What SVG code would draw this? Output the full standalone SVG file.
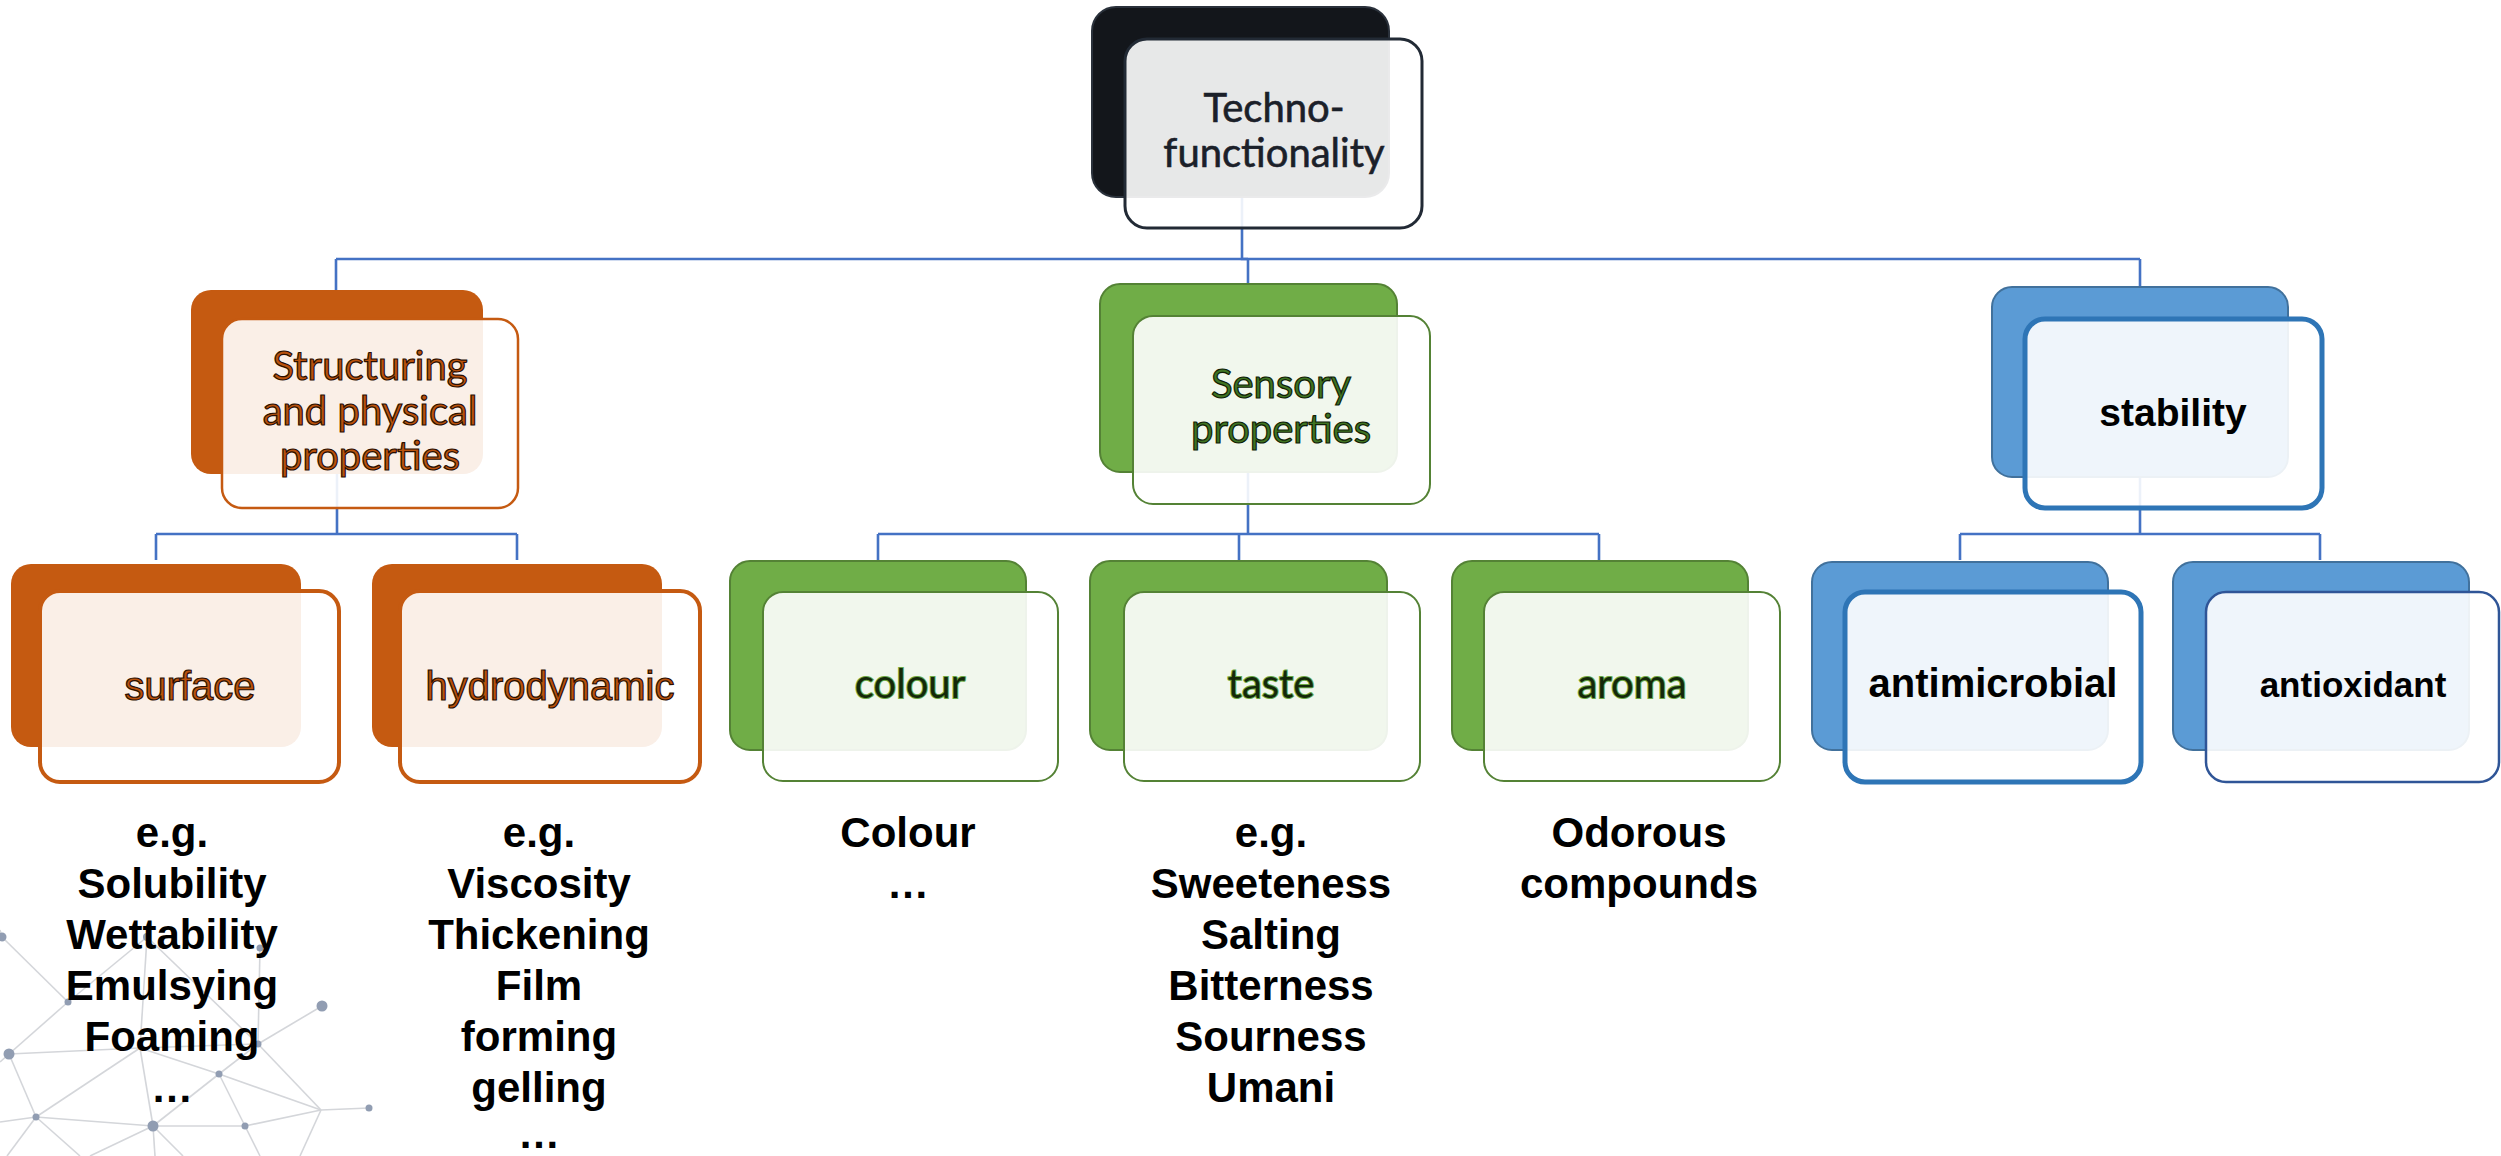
<svg xmlns="http://www.w3.org/2000/svg" width="2501" height="1156" viewBox="0 0 2501 1156">
  <style>
    .net line { stroke: #d4d6da; stroke-width: 1.6; }
    .net circle { fill: #919db2; }
    .conn { fill: none; stroke: #4472c4; stroke-width: 2.6; }
    .front { fill: #ffffff; fill-opacity: 0.9; }
    .cal { font-family: Lato, "Open Sans", "Noto Sans", sans-serif; font-size: 40px; text-anchor: middle; }
    .ari { font-family: "Liberation Sans", Arial, sans-serif; text-anchor: middle; }
    .list { font-family: "Liberation Sans", Arial, sans-serif; font-size: 42px; font-weight: bold; text-anchor: middle; fill: #000; }
    .t-dark { fill: #1b2029; stroke: #1b2029; stroke-width: 0.6; }
    .t-orange { fill: #b9520d; stroke: #2a0e00; stroke-width: 1.2; }
    .t-green { fill: #3f7422; stroke: #0f1d06; stroke-width: 1.2; }
    .t-green2 { fill: #14280a; stroke: #6aa842; stroke-width: 2; paint-order: stroke; }
  </style>

  <!-- decorative network, lower left -->
  <g id="network" class="net">
    <line x1="0" y1="930" x2="2" y2="937"/>
    <line x1="2" y1="937" x2="68" y2="1002"/>
    <line x1="68" y1="1002" x2="9" y2="1054"/>
    <line x1="68" y1="1002" x2="147" y2="937"/>
    <line x1="147" y1="937" x2="140" y2="1048"/>
    <line x1="140" y1="1048" x2="153" y2="1126"/>
    <line x1="147" y1="937" x2="258" y2="1044"/>
    <line x1="260" y1="948" x2="258" y2="1044"/>
    <line x1="322" y1="1006" x2="258" y2="1044"/>
    <line x1="258" y1="1044" x2="219" y2="1074"/>
    <line x1="219" y1="1074" x2="321" y2="1110"/>
    <line x1="258" y1="1044" x2="321" y2="1110"/>
    <line x1="321" y1="1110" x2="369" y2="1108"/>
    <line x1="321" y1="1110" x2="245" y2="1126"/>
    <line x1="321" y1="1110" x2="300" y2="1156"/>
    <line x1="219" y1="1074" x2="245" y2="1126"/>
    <line x1="219" y1="1074" x2="153" y2="1126"/>
    <line x1="140" y1="1048" x2="219" y2="1074"/>
    <line x1="9" y1="1054" x2="140" y2="1048"/>
    <line x1="140" y1="1048" x2="258" y2="1044"/>
    <line x1="140" y1="1048" x2="36" y2="1117"/>
    <line x1="9" y1="1054" x2="36" y2="1117"/>
    <line x1="9" y1="1054" x2="0" y2="1062"/>
    <line x1="36" y1="1117" x2="153" y2="1126"/>
    <line x1="36" y1="1117" x2="0" y2="1122"/>
    <line x1="36" y1="1117" x2="7" y2="1156"/>
    <line x1="36" y1="1117" x2="80" y2="1156"/>
    <line x1="153" y1="1126" x2="245" y2="1126"/>
    <line x1="153" y1="1126" x2="155" y2="1156"/>
    <line x1="153" y1="1126" x2="183" y2="1156"/>
    <line x1="153" y1="1126" x2="90" y2="1156"/>
    <line x1="245" y1="1126" x2="260" y2="1156"/>
    <circle cx="2" cy="937" r="4.5"/>
    <circle cx="147" cy="937" r="4"/>
    <circle cx="260" cy="948" r="3.5"/>
    <circle cx="68" cy="1002" r="3.5"/>
    <circle cx="322" cy="1006" r="5.5"/>
    <circle cx="9" cy="1054" r="5.5"/>
    <circle cx="258" cy="1044" r="3.5"/>
    <circle cx="219" cy="1074" r="3.5"/>
    <circle cx="36" cy="1117" r="3.5"/>
    <circle cx="153" cy="1126" r="5.5"/>
    <circle cx="245" cy="1126" r="3.5"/>
    <circle cx="369" cy="1108" r="3.5"/>
  </g>

  <!-- connectors (drawn beneath the boxes) -->
  <g id="connectors" class="conn">
    <path d="M1242 150 V259 H1248"/>
    <path d="M336 259 H2140"/>
    <path d="M336 259 V290"/>
    <path d="M1248 259 V284"/>
    <path d="M2140 259 V287"/>
    <path d="M337 400 V534 M156 534 H517 M156 534 V560 M517 534 V560"/>
    <path d="M1248 400 V534 M878 534 H1599 M878 534 V560 M1239 534 V560 M1599 534 V560"/>
    <path d="M2140 400 V534 M1960 534 H2320 M1960 534 V560 M2320 534 V560"/>
  </g>

  <!-- root -->
  <g id="node-techno">
    <rect x="1092" y="7" width="297" height="190" rx="24" fill="#13161b" stroke="#2a313b" stroke-width="2"/>
    <rect class="front" x="1125" y="39" width="297" height="189" rx="22" stroke="#222a35" stroke-width="3"/>
    <text class="cal t-dark" x="1274" y="122">Techno-</text>
    <text class="cal t-dark" x="1274" y="167">functionality</text>
  </g>

  <!-- second level -->
  <g id="node-structuring">
    <rect x="191" y="290" width="292" height="184" rx="20" fill="#c55a11"/>
    <rect class="front" x="222" y="319" width="296" height="189" rx="20" stroke="#c55a11" stroke-width="2.5"/>
    <text class="cal t-orange" x="370" y="380">Structuring</text>
    <text class="cal t-orange" x="370" y="425">and physical</text>
    <text class="cal t-orange" x="370" y="470">properties</text>
  </g>

  <g id="node-sensory">
    <rect x="1100" y="284" width="297" height="188" rx="20" fill="#70ad47" stroke="#548235" stroke-width="2"/>
    <rect class="front" x="1133" y="316" width="297" height="188" rx="20" stroke="#548235" stroke-width="2"/>
    <text class="cal t-green" x="1281" y="398">Sensory</text>
    <text class="cal t-green" x="1281" y="443">properties</text>
  </g>

  <g id="node-stability">
    <rect x="1992" y="287" width="296" height="190" rx="20" fill="#5b9bd5" stroke="#41719c" stroke-width="2"/>
    <rect class="front" x="2025" y="319" width="297" height="189" rx="20" stroke="#2e75b6" stroke-width="5"/>
    <text class="ari" x="2173" y="426" font-size="39" font-weight="bold" fill="#000">stability</text>
  </g>

  <!-- third level: structuring -->
  <g id="node-surface">
    <rect x="11" y="564" width="290" height="183" rx="20" fill="#c55a11"/>
    <rect class="front" x="40" y="591" width="299" height="191" rx="20" stroke="#c55a11" stroke-width="4"/>
    <text class="ari t-orange" x="190" y="700" font-size="40">surface</text>
  </g>

  <g id="node-hydrodynamic">
    <rect x="372" y="564" width="290" height="183" rx="20" fill="#c55a11"/>
    <rect class="front" x="400" y="591" width="300" height="191" rx="20" stroke="#c55a11" stroke-width="4"/>
    <text class="ari t-orange" x="550" y="700" font-size="40">hydrodynamic</text>
  </g>

  <!-- third level: sensory -->
  <g id="node-colour">
    <rect x="730" y="561" width="296" height="189" rx="20" fill="#70ad47" stroke="#548235" stroke-width="2"/>
    <rect class="front" x="763" y="592" width="295" height="189" rx="20" stroke="#548235" stroke-width="2"/>
    <text class="cal t-green2" x="910" y="698">colour</text>
  </g>

  <g id="node-taste">
    <rect x="1090" y="561" width="297" height="189" rx="20" fill="#70ad47" stroke="#548235" stroke-width="2"/>
    <rect class="front" x="1124" y="592" width="296" height="189" rx="20" stroke="#548235" stroke-width="2"/>
    <text class="cal t-green2" x="1271" y="698">taste</text>
  </g>

  <g id="node-aroma">
    <rect x="1452" y="561" width="296" height="189" rx="20" fill="#70ad47" stroke="#548235" stroke-width="2"/>
    <rect class="front" x="1484" y="592" width="296" height="189" rx="20" stroke="#548235" stroke-width="2"/>
    <text class="cal t-green2" x="1632" y="698">aroma</text>
  </g>

  <!-- third level: stability -->
  <g id="node-antimicrobial">
    <rect x="1812" y="562" width="296" height="188" rx="20" fill="#5b9bd5" stroke="#41719c" stroke-width="2"/>
    <rect class="front" x="1845" y="592" width="296" height="190" rx="20" stroke="#2e75b6" stroke-width="5"/>
    <text class="ari" x="1993" y="697" font-size="40" font-weight="bold" fill="#000">antimicrobial</text>
  </g>

  <g id="node-antioxidant">
    <rect x="2173" y="562" width="296" height="188" rx="20" fill="#5b9bd5" stroke="#41719c" stroke-width="2"/>
    <rect class="front" x="2206" y="592" width="293" height="190" rx="20" stroke="#2f5597" stroke-width="2.5"/>
    <text class="ari" x="2353" y="697" font-size="35" font-weight="bold" fill="#000">antioxidant</text>
  </g>

  <!-- example lists under the leaves -->
  <g id="list-surface" class="list">
    <text x="172" y="847">e.g.</text>
    <text x="172" y="898">Solubility</text>
    <text x="172" y="949">Wettability</text>
    <text x="172" y="1000">Emulsying</text>
    <text x="172" y="1051">Foaming</text>
    <text x="172" y="1102">…</text>
  </g>

  <g id="list-hydrodynamic" class="list">
    <text x="539" y="847">e.g.</text>
    <text x="539" y="898">Viscosity</text>
    <text x="539" y="949">Thickening</text>
    <text x="539" y="1000">Film</text>
    <text x="539" y="1051">forming</text>
    <text x="539" y="1102">gelling</text>
    <text x="539" y="1148">…</text>
  </g>

  <g id="list-colour" class="list">
    <text x="908" y="847">Colour</text>
    <text x="908" y="898">…</text>
  </g>

  <g id="list-taste" class="list">
    <text x="1271" y="847">e.g.</text>
    <text x="1271" y="898">Sweeteness</text>
    <text x="1271" y="949">Salting</text>
    <text x="1271" y="1000">Bitterness</text>
    <text x="1271" y="1051">Sourness</text>
    <text x="1271" y="1102">Umani</text>
  </g>

  <g id="list-aroma" class="list">
    <text x="1639" y="847">Odorous</text>
    <text x="1639" y="898">compounds</text>
  </g>
</svg>
